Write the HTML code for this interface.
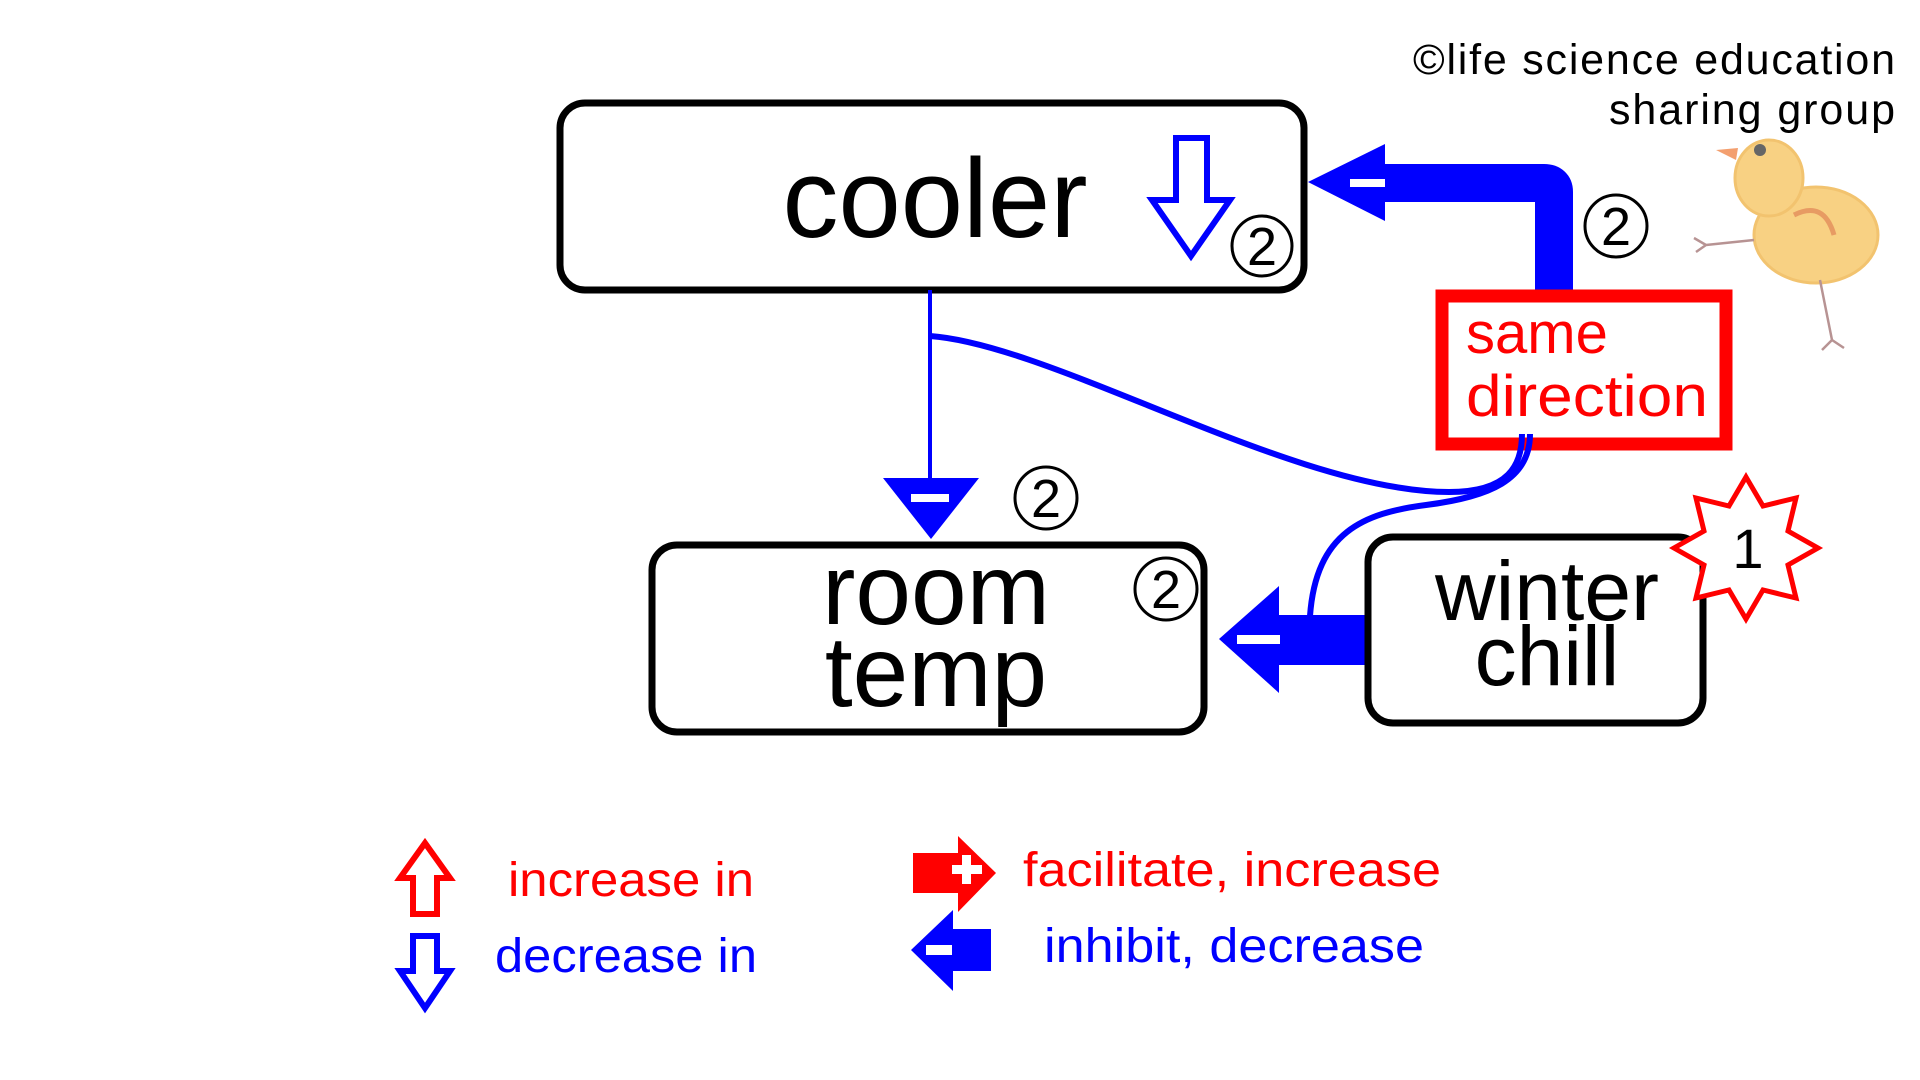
<!DOCTYPE html>
<html><head><meta charset="utf-8"><style>
html,body{margin:0;padding:0;background:#fff;width:1920px;height:1080px;overflow:hidden}
svg{display:block}
text{font-family:"Liberation Sans","DejaVu Sans",sans-serif}
</style></head><body>
<svg width="1920" height="1080" viewBox="0 0 1920 1080" xmlns="http://www.w3.org/2000/svg">
<g transform="translate(-6,0)">
<text x="1901" y="74" font-size="43" text-anchor="end" fill="#000" textLength="482" lengthAdjust="spacing">©life science education</text>
<text x="1901" y="124" font-size="43" text-anchor="end" fill="#000" textLength="286" lengthAdjust="spacing">sharing group</text>

<g opacity="0.75">
<ellipse cx="1822" cy="235" rx="62" ry="48" fill="#f6c25a" stroke="#eeb040" stroke-width="3"/>
<ellipse cx="1775" cy="178" rx="34" ry="38" fill="#f6c25a" stroke="#eeb040" stroke-width="3"/>
<path d="M1742,160 L1722,150 L1744,148 Z" fill="#f08040"/>
<circle cx="1766" cy="150" r="6" fill="#333"/>
<path d="M1800,215 Q1830,200 1840,235" stroke="#e07a30" stroke-width="5" fill="none"/>
<path d="M1760,240 L1712,245 M1712,245 L1700,238 M1712,245 L1702,252" stroke="#a07070" stroke-width="2.5" fill="none"/>
<path d="M1826,280 L1838,340 M1838,340 L1828,350 M1838,340 L1850,348" stroke="#a07070" stroke-width="2.5" fill="none"/>
</g>

<rect x="566" y="103" width="744" height="187" rx="25" fill="#fff" stroke="#000" stroke-width="7"/>
<text x="941" y="237" font-size="112" text-anchor="middle" fill="#000">cooler</text>
<path d="M1182,138 L1213,138 L1213,200 L1236,200 L1197,256 L1158,200 L1182,200 Z" fill="#fff" stroke="#0000ff" stroke-width="6"/>
<circle cx="1268" cy="246" r="30" fill="none" stroke="#000" stroke-width="3"/>
<text x="1268" y="265" font-size="54" text-anchor="middle" fill="#000">2</text>

<path d="M1560,290 L1560,192 Q1560,183 1550,183 L1388,183" stroke="#0000ff" stroke-width="38" fill="none"/>
<path d="M1314,182 L1391,144 L1391,221 Z" fill="#0000ff"/>
<rect x="1356" y="179" width="35" height="8" fill="#fff"/>
<circle cx="1622" cy="226" r="31" fill="none" stroke="#000" stroke-width="3"/>
<text x="1622" y="245" font-size="54" text-anchor="middle" fill="#000">2</text>

<rect x="1448" y="296" width="284" height="148" fill="#fff" stroke="#ff0000" stroke-width="13"/>
<text x="1472" y="353" font-size="58" fill="#ff0000">same</text>
<text x="1472" y="416" font-size="58" fill="#ff0000" textLength="242" lengthAdjust="spacingAndGlyphs">direction</text>

<line x1="936" y1="290" x2="936" y2="482" stroke="#0000ff" stroke-width="4"/>
<path d="M889,478 L985,478 L937,539 Z" fill="#0000ff"/>
<rect x="917" y="494" width="38" height="8" fill="#fff"/>
<circle cx="1052" cy="498" r="31" fill="none" stroke="#000" stroke-width="3"/>
<text x="1052" y="517" font-size="54" text-anchor="middle" fill="#000">2</text>

<path d="M936,336 C1060,345 1300,492 1455,492 C1515,492 1528,465 1528,434" stroke="#0000ff" stroke-width="6" fill="none"/>
<path d="M1536,434 C1536,480 1495,497 1432,505 C1370,513 1322,532 1316,616" stroke="#0000ff" stroke-width="6" fill="none"/>

<rect x="658" y="545" width="552" height="187" rx="25" fill="#fff" stroke="#000" stroke-width="7"/>
<text x="942" y="624" font-size="100" text-anchor="middle" fill="#000">room</text>
<text x="942" y="706" font-size="100" text-anchor="middle" fill="#000">temp</text>
<circle cx="1172" cy="589" r="31" fill="none" stroke="#000" stroke-width="3"/>
<text x="1172" y="608" font-size="54" text-anchor="middle" fill="#000">2</text>

<rect x="1280" y="615" width="96" height="50" fill="#0000ff"/>
<path d="M1225,639 L1285,586 L1285,693 Z" fill="#0000ff"/>
<rect x="1243" y="635" width="43" height="9" fill="#fff"/>

<rect x="1374" y="537" width="335" height="186" rx="25" fill="#fff" stroke="#000" stroke-width="7"/>
<text x="1553" y="620" font-size="84" text-anchor="middle" fill="#000">winter</text>
<text x="1553" y="685" font-size="84" text-anchor="middle" fill="#000">chill</text>

<g transform="translate(-2,0)">
<path d="M1754,477 L1771,506 L1804,498 L1796,531 L1826,548 L1796,565 L1804,598 L1771,590 L1754,619 L1737,590 L1704,598 L1712,565 L1682,548 L1712,531 L1704,498 L1737,506 Z" fill="#fff" stroke="#ff0000" stroke-width="5"/>
<text x="1756" y="568" font-size="56" text-anchor="middle" fill="#000">1</text>
</g>

<path d="M419,914 L443,914 L443,878 L456,878 L431,843 L406,878 L419,878 Z" fill="#fff" stroke="#ff0000" stroke-width="6"/>
<text x="514" y="896" font-size="48" fill="#ff0000" textLength="246" lengthAdjust="spacingAndGlyphs">increase in</text>
<path d="M419,936 L443,936 L443,971 L456,971 L431,1008 L406,971 L419,971 Z" fill="#fff" stroke="#0000ff" stroke-width="6"/>
<text x="501" y="972" font-size="48" fill="#0000ff" textLength="262" lengthAdjust="spacingAndGlyphs">decrease in</text>

<rect x="919" y="853" width="48" height="40" fill="#ff0000"/>
<path d="M964,836 L1002,873 L964,912 Z" fill="#ff0000"/>
<rect x="958" y="865" width="30" height="9" fill="#fff"/>
<rect x="968" y="855" width="9" height="29" fill="#fff"/>
<text x="1029" y="886" font-size="48" fill="#ff0000" textLength="418" lengthAdjust="spacingAndGlyphs">facilitate, increase</text>

<rect x="955" y="929" width="42" height="42" fill="#0000ff"/>
<path d="M917,950 L959,910 L959,991 Z" fill="#0000ff"/>
<rect x="932" y="945" width="26" height="10" fill="#fff"/>
<text x="1050" y="962" font-size="48" fill="#0000ff" textLength="380" lengthAdjust="spacingAndGlyphs">inhibit, decrease</text>
</g>
</svg>
</body></html>
